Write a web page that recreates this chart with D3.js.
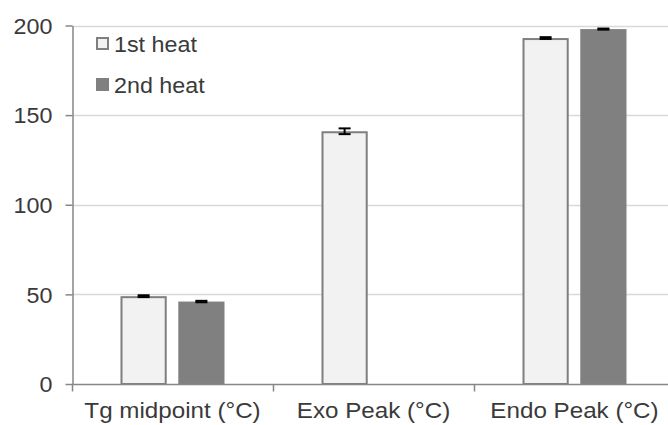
<!DOCTYPE html>
<html>
<head>
<meta charset="utf-8">
<script src="https://cdn.jsdelivr.net/npm/d3@7"></script>
<style>
  html, body { margin: 0; padding: 0; background: #fff; }
  svg { display: block; font-family: "Liberation Sans", Arial, sans-serif; }
</style>
</head>
<body>
<svg id="chart" width="668" height="425"></svg>
<script>
// Thermal events measured on 1st and 2nd DSC heating runs
const categories = ["Tg midpoint (°C)", "Exo Peak (°C)", "Endo Peak (°C)"];
const seriesNames = ["1st heat", "2nd heat"];
const firstHeat = [49, 141, 193];
const secondHeat = [46, null, 198];
const firstHeatErr = [0.5, 1.6, 0.5];
const secondHeatErr = [0.4, null, 0.3];
const yTicks = [0, 50, 100, 150, 200];

const svg = d3.select("#chart");
const margin = { left: 72, right: -7, top: 25, bottom: 41 };
const W = 668, H = 425;
const textColor = "#3a3a3a";

const x = d3.scaleBand()
  .domain(categories)
  .range([margin.left, W - margin.right])
  .paddingInner(0).paddingOuter(0);

const y = d3.scaleLinear()
  .domain([0, 200])
  .range([H - margin.bottom, margin.top + 0.5]);

const groupW = 104;
const xs = d3.scaleBand()
  .domain(seriesNames)
  .range([0, groupW])
  .paddingInner(0.2);

const fills = ["#f2f2f2", "#808080"];
const strokes = ["#7f7f7f", "none"];

// gridlines
svg.append("g")
  .selectAll("line")
  .data(yTicks.filter(d => d > 0))
  .join("line")
  .attr("x1", margin.left).attr("x2", W)
  .attr("y1", d => Math.round(y(d)) + 0.5).attr("y2", d => Math.round(y(d)) + 0.5)
  .attr("stroke", "#d9d9d9").attr("stroke-width", 1.5);

// bars
const series = [firstHeat, secondHeat];
const errs = [firstHeatErr, secondHeatErr];
const barLayer = svg.append("g");
series.forEach((vals, si) => {
  const data = categories.map((c, i) => ({ c, v: vals[i], e: errs[si][i] }))
    .filter(d => d.v != null);
  const bx = d => x(d.c) + x.bandwidth() / 2 - groupW / 2 + xs(seriesNames[si]);
  barLayer.append("g")
    .selectAll("rect")
    .data(data)
    .join("rect")
    .attr("x", d => bx(d) + (si === 0 ? 1 : 0))
    .attr("y", d => y(d.v) + (si === 0 ? 1 : 0))
    .attr("width", xs.bandwidth() - (si === 0 ? 2 : 0))
    .attr("height", d => y(0) - y(d.v) - (si === 0 ? 1 : 0))
    .attr("fill", fills[si])
    .attr("stroke", strokes[si])
    .attr("stroke-width", 2);

  // error bars
  const eg = barLayer.append("g").attr("stroke", "#000").attr("stroke-width", 2);
  data.forEach(d => {
    const cx = bx(d) + xs.bandwidth() / 2;
    const hi = y(d.v + d.e), lo = y(d.v - d.e);
    eg.append("line").attr("x1", cx).attr("x2", cx).attr("y1", hi).attr("y2", lo);
    eg.append("line").attr("x1", cx - 6).attr("x2", cx + 6).attr("y1", hi).attr("y2", hi);
    eg.append("line").attr("x1", cx - 6).attr("x2", cx + 6).attr("y1", lo).attr("y2", lo);
  });
});

// y axis
const yAxis = svg.append("g")
  .attr("transform", `translate(${margin.left + 0.5},0)`)
  .call(d3.axisLeft(y).tickValues(yTicks).tickSize(7).tickPadding(13).tickSizeOuter(0));
yAxis.select(".domain").attr("stroke", "#868686").attr("stroke-width", 1.5);
yAxis.selectAll(".tick line").attr("stroke", "#868686").attr("stroke-width", 1.5);
yAxis.selectAll(".tick text")
  .attr("fill", textColor)
  .attr("x", null)
  .attr("dy", "0.35em")
  .attr("transform", "translate(-20,0) scale(1.06,1)")
  .style("font-size", "22px")
  .style("font-family", "Liberation Sans, Arial, sans-serif");

// x axis
const xAxisG = svg.append("g").attr("transform", `translate(0,${Math.round(y(0)) + 0.5})`);
xAxisG.append("line")
  .attr("x1", margin.left).attr("x2", W)
  .attr("stroke", "#868686").attr("stroke-width", 1.5);
xAxisG.selectAll("line.tk")
  .data(categories)
  .join("line")
  .attr("class", "tk")
  .attr("x1", d => x(d) + 0.5).attr("x2", d => x(d) + 0.5)
  .attr("y1", 0).attr("y2", 7)
  .attr("stroke", "#868686").attr("stroke-width", 1.5);
xAxisG.selectAll("text")
  .data(categories)
  .join("text")
  .attr("transform", d => `translate(${x(d) + x.bandwidth() / 2},33) scale(1.1,1)`)
  .attr("text-anchor", "middle")
  .attr("fill", textColor)
  .style("font-size", "22px")
  .text(d => d);

// legend
const legend = svg.append("g").attr("transform", "translate(96,37)");
seriesNames.forEach((name, i) => {
  const g = legend.append("g").attr("transform", `translate(0,${i * 41})`);
  g.append("rect")
    .attr("x", i === 0 ? 1 : 0).attr("y", i === 0 ? 1 : 0)
    .attr("width", i === 0 ? 11 : 13).attr("height", i === 0 ? 11 : 13)
    .attr("fill", fills[i])
    .attr("stroke", strokes[i]).attr("stroke-width", 2);
  g.append("text")
    .attr("transform", "translate(18,15) scale(1.06,1)")
    .attr("fill", textColor)
    .style("font-size", "22px")
    .text(name);
});
</script>
</body>
</html>
